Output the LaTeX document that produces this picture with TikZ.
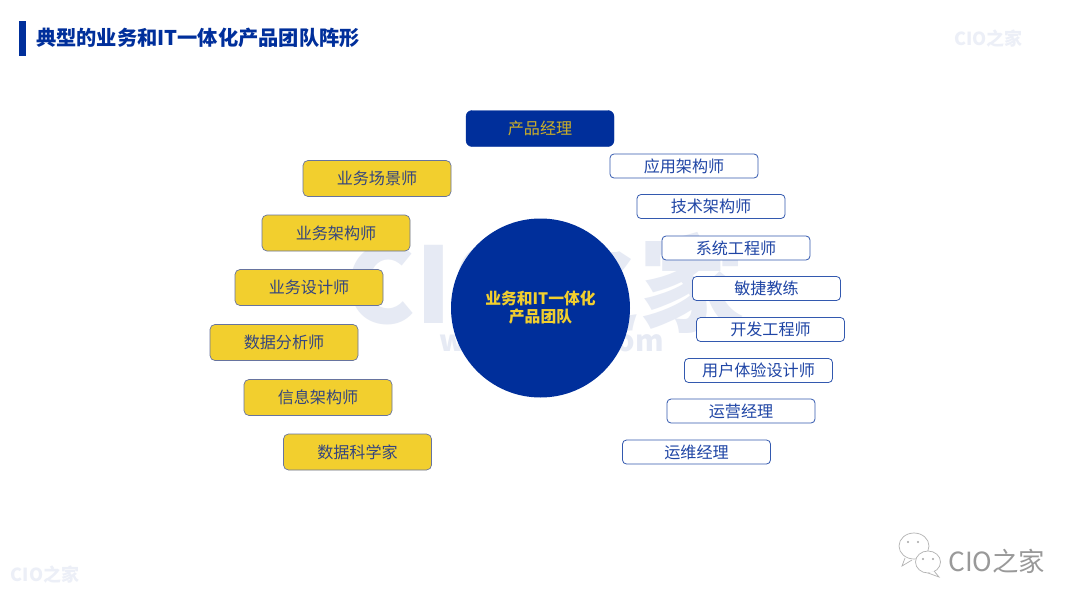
\documentclass[tikz,border=0pt]{standalone}
\usepackage{fontspec}
\setmainfont{Noto Sans CJK SC}
\definecolor{navy}{HTML}{002F9B}
\definecolor{gold}{HTML}{F2CF2E}
\definecolor{wm}{HTML}{E6EAF4}
\definecolor{wmb}{HTML}{ECEFF7}
\definecolor{ink}{HTML}{34457F}
\definecolor{bluetext}{HTML}{1F45A5}
\tikzset{
  x=1pt,y=-1pt,
  yellowbox/.style={draw=ink!75,line width=0.7pt,fill=gold,rounded corners=5pt,minimum width=148pt,minimum height=36pt,inner sep=0pt,font=\fontsize{16.1}{18}\selectfont,text=ink},
  whitebox/.style={draw=navy!80,line width=0.8pt,fill=white,rounded corners=4pt,minimum width=148pt,minimum height=24pt,inner sep=0pt,font=\fontsize{16.1}{18}\selectfont,text=bluetext},
  topbox/.style={draw=navy,fill=navy,rounded corners=6pt,minimum width=148pt,minimum height=36pt,inner sep=0pt,font=\fontsize{16.1}{18}\selectfont,text=gold!85!black},
  hub/.style={circle,fill=navy,minimum size=179pt,inner sep=0pt,align=center,text=gold,font=\fontsize{15.8}{18}\selectfont\bfseries},
  wmark/.style={inner sep=0pt,text=wm,font=\fontsize{105}{105}\selectfont\bfseries},
  wsmall/.style={inner sep=0pt,text=wmb,font=\fontsize{18}{20}\selectfont\bfseries},
  bubble/.style={draw=black!30,line width=0.7pt,fill=white},
}
\begin{document}
\begin{tikzpicture}
\useasboundingbox (0,0) rectangle (1080,608);
\fill[white] (0,0) rectangle (1080,608);
% watermarks
\node[wmark] (wmA) at (545,283) {CIO之家};
\node[wsmall,font=\fontsize{29}{31}\selectfont\bfseries,text=wm] (wmB) at (551.5,343) {www.ciozj.com};
\node[wsmall] (wmC) at (988.5,39) {CIO之家};
\node[wsmall] (wmD) at (45,575) {CIO之家};
% title
\fill[navy] (19,21) rectangle (26,56);
\node[anchor=west,inner sep=0pt,text=navy,font=\fontsize{20.25}{22}\selectfont\bfseries] (title) at (36,38) {典型的业务和IT一体化产品团队阵形};
% hub
\node[hub] (center) at (540.5,308) {业务和IT一体化\\产品团队};
% top
\node[topbox] (pm) at (540,128.5) {产品经理};
% left
\node[yellowbox] (y1) at (377,178.5) {业务场景师};
\node[yellowbox] (y2) at (336,233) {业务架构师};
\node[yellowbox] (y3) at (309,287.5) {业务设计师};
\node[yellowbox] (y4) at (284,342.5) {数据分析师};
\node[yellowbox] (y5) at (318,397.5) {信息架构师};
\node[yellowbox] (y6) at (357.5,452) {数据科学家};
% right
\node[whitebox] (w1) at (684,166) {应用架构师};
\node[whitebox] (w2) at (711,206.5) {技术架构师};
\node[whitebox] (w3) at (736,248) {系统工程师};
\node[whitebox] (w4) at (766.5,288.5) {敏捷教练};
\node[whitebox] (w5) at (770.5,329.5) {开发工程师};
\node[whitebox] (w6) at (758.5,370.5) {用户体验设计师};
\node[whitebox] (w7) at (741,411) {运营经理};
\node[whitebox] (w8) at (696.5,452) {运维经理};
% logo
\draw[bubble] (914,546) ellipse (15pt and 13pt);
\draw[bubble] (905,558) -- (902,566) -- (912,560);
\draw[bubble] (928,562) ellipse (12.5pt and 11pt);
\draw[bubble] (934,571) -- (939,577) -- (928,573);
\fill[black!35] (908,542) circle (1.2pt) (918,542) circle (1.2pt) (923,559) circle (1.2pt) (933,559) circle (1.2pt);
\node[anchor=west,inner sep=0pt,text=black!40,font=\fontsize{26.4}{28}\selectfont] (brand) at (948,561) {CIO之家};
\end{tikzpicture}
\end{document}
